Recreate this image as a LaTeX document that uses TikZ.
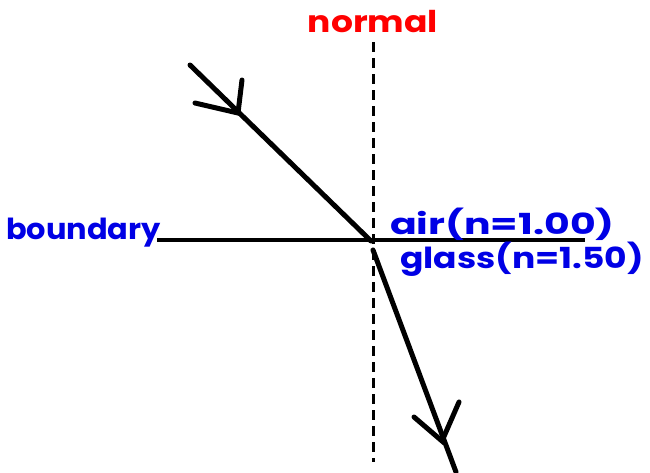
\documentclass[tikz,border=0pt]{standalone}
\usepackage{fontspec}
\setmainfont{Poppins}
\begin{document}
\begin{tikzpicture}[x=1pt,y=-1pt,
  ray/.style={line width=5pt, line cap=round, line join=round, black},
  barb/.style={line width=5pt, line cap=round, black},
  normalline/.style={line width=3pt, black, dash pattern=on 10pt off 6pt},
  boundaryline/.style={line width=3.5pt, black},
  redlabel/.style={inner sep=0pt, text=red, font=\fontsize{30}{30}\selectfont\bfseries},
  bluelabel/.style={inner sep=0pt, text=blue!90!black, font=\fontsize{29}{29}\selectfont\bfseries}]
\useasboundingbox (0,0) rectangle (650,472);
% coordinates
\coordinate (ntop) at (373,42);
\coordinate (nbot) at (373,462);
\coordinate (bl) at (157,240);
\coordinate (br) at (585,240);
\coordinate (A) at (190,65);
\coordinate (O) at (371,241);
\coordinate (O2) at (373,250);
\coordinate (B) at (456,472);
\coordinate (t1) at (238,113);
\coordinate (t1a) at (195,103);
\coordinate (t1b) at (242,80);
\coordinate (t2) at (442,441);
\coordinate (t2a) at (414,417);
\coordinate (t2b) at (459,402);
% lines
\draw[normalline] (ntop) -- (nbot);
\draw[boundaryline] (bl) -- (br);
\draw[ray] (A) -- (O);
\draw[ray] (O2) -- (B);
\draw[barb] (t1a) -- (t1) -- (t1b);
\draw[barb] (t2a) -- (t2) -- (t2b);
% labels
\node[redlabel] (lnormal) at (373,22) {\scalebox{1.15}[1]{normal}};
\node[bluelabel, anchor=west] (lbound) at (6,233) {\scalebox{1.05}[1]{boundary}};
\node[bluelabel, anchor=west] (lair) at (390,224) {\scalebox{1.36}[1]{air(n=1.00)}};
\node[bluelabel, anchor=west] (lglass) at (400,259) {\scalebox{1.19}[1]{glass(n=1.50)}};
\end{tikzpicture}
\end{document}
